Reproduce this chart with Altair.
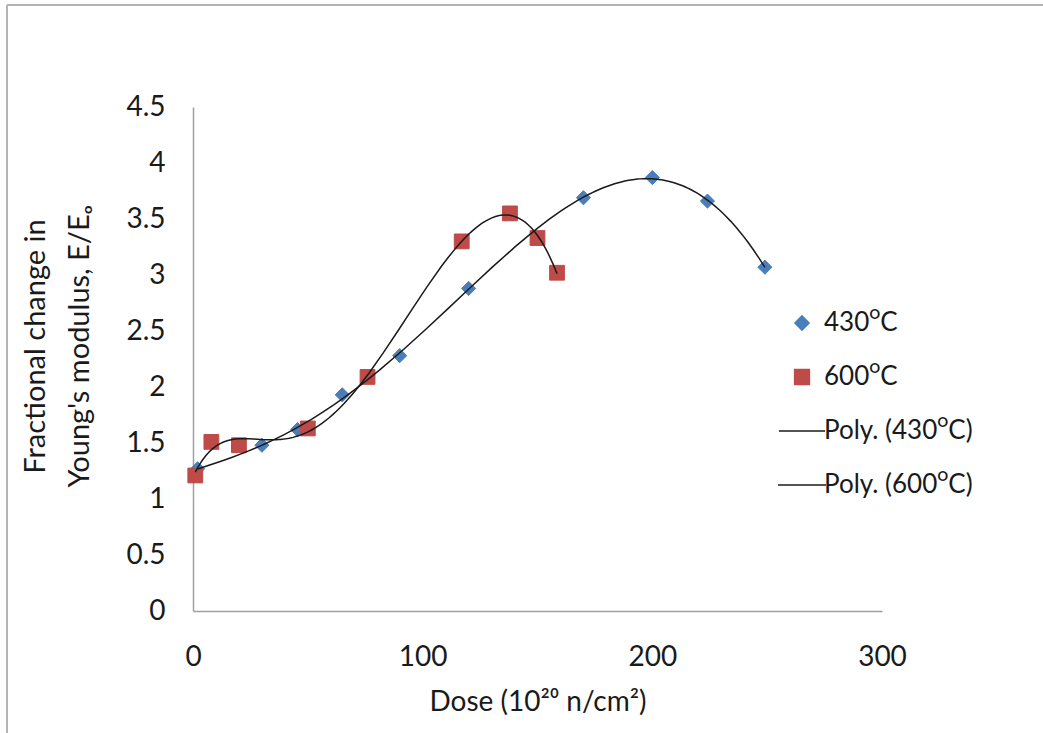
import altair as alt
import pandas as pd

# ---- data ----
dose_430 = [2, 30, 45.5, 65, 90, 120, 170, 200, 224, 249]
val_430 = [1.27, 1.48, 1.62, 1.93, 2.28, 2.88, 3.69, 3.87, 3.66, 3.07]
dose_600 = [1, 8, 20, 50, 76, 117, 138, 150, 158.5]
val_600 = [1.21, 1.51, 1.48, 1.63, 2.09, 3.30, 3.55, 3.33, 3.02]

series_names = ["430ᴼC", "600ᴼC"]
legend_labels = ["430ᴼC", "600ᴼC", "Poly. (430ᴼC)", "Poly. (600ᴼC)"]
legend_fill = ["#4a7ebb", "#be4b48", "#1a1a1a", "#1a1a1a"]
legend_shape = ["diamond", "square", "M-3,0H3", "M-3,0H3"]
legend_size = [200, 256, 180, 180]
x_ticks = [0, 100, 200, 300]
y_ticks = [0, 0.5, 1, 1.5, 2, 2.5, 3, 3.5, 4, 4.5]

rows = []
for d, v in zip(dose_430, val_430):
    rows.append({"dose": d, "value": v, "series": series_names[0], "label": legend_labels[0]})
for d, v in zip(dose_600, val_600):
    rows.append({"dose": d, "value": v, "series": series_names[1], "label": legend_labels[1]})
df = pd.DataFrame(rows)

FONT = "Lato"
TXT = "#1a1a1a"

leg = alt.Legend(title=None, orient="none", legendX=596, legendY=203,
                 labelFont=FONT, labelFontSize=26, labelColor=TXT,
                 rowPadding=28, labelOffset=9, symbolStrokeWidth=1.5)

fill_scale = alt.Scale(domain=legend_labels, range=legend_fill)
shape_scale = alt.Scale(domain=legend_labels, range=legend_shape)
size_scale = alt.Scale(domain=legend_labels, range=legend_size)

x_enc = alt.X("dose:Q", scale=alt.Scale(domain=[0, 300], nice=False),
              axis=alt.Axis(values=x_ticks, title="Dose (10²⁰ n/cm²)", grid=False,
                            ticks=False, tickSize=0, labelPadding=32, labelFlush=False,
                            labelFont=FONT, labelFontSize=28, labelColor=TXT,
                            titleFont=FONT, titleFontSize=28, titleFontWeight="normal",
                            titleColor=TXT, titlePadding=17,
                            domainColor="#a0a0a0", domainWidth=1.5))
y_enc = alt.Y("value:Q", scale=alt.Scale(domain=[0, 4.5], nice=False),
              axis=alt.Axis(values=y_ticks, format="~g",
                            title=["Fractional change in", "Young's modulus, E/Eₒ"],
                            grid=False, ticks=False, tickSize=0, labelPadding=28,
                            labelFlush=False,
                            labelFont=FONT, labelFontSize=28, labelColor=TXT,
                            titleFont=FONT, titleFontSize=29, titleFontWeight="normal",
                            titleColor=TXT, titleAngle=-90, titleBaseline="top",
                            titleAlign="center", titleX=-172, titleY=239,
                            titleLineHeight=44,
                            domainColor="#a0a0a0", domainWidth=1.5))

points = alt.Chart(df).mark_point(filled=True, opacity=1, strokeWidth=1).encode(
    x=x_enc,
    y=y_enc,
    fill=alt.Fill("label:N", scale=fill_scale, legend=leg),
    stroke=alt.Stroke("label:N", scale=fill_scale, legend=leg),
    shape=alt.Shape("label:N", scale=shape_scale, legend=leg),
    size=alt.Size("label:N", scale=size_scale, legend=leg),
)

def trend(series, label, order):
    return alt.Chart(df).transform_filter(
        alt.datum.series == series
    ).transform_regression(
        "dose", "value", method="poly", order=order
    ).transform_calculate(
        label=f'"{label}"'
    ).mark_line(strokeWidth=1.5).encode(
        x="dose:Q",
        y="value:Q",
        stroke=alt.Stroke("label:N", scale=fill_scale, legend=leg),
    )

line430 = trend(series_names[0], legend_labels[2], 5)
line600 = trend(series_names[1], legend_labels[3], 6)

frame_left = alt.Chart(df).mark_rule(color="#b4b4b4", strokeWidth=2).encode(
    x=alt.value(-186), y=alt.value(-102), y2=alt.value(626))
frame_top = alt.Chart(df).mark_rule(color="#b4b4b4", strokeWidth=2).encode(
    x=alt.value(-186), x2=alt.value(850), y=alt.value(-102))

chart = alt.layer(frame_left, frame_top, points, line430, line600).properties(
    width=689, height=504,
    autosize=alt.AutoSizeParams(type="none"),
    padding={"left": 193, "top": 107, "right": 161, "bottom": 122},
    background="white",
).configure_view(stroke=None)

chart.save("out.html", embed_options={"renderer": "svg", "actions": False})
